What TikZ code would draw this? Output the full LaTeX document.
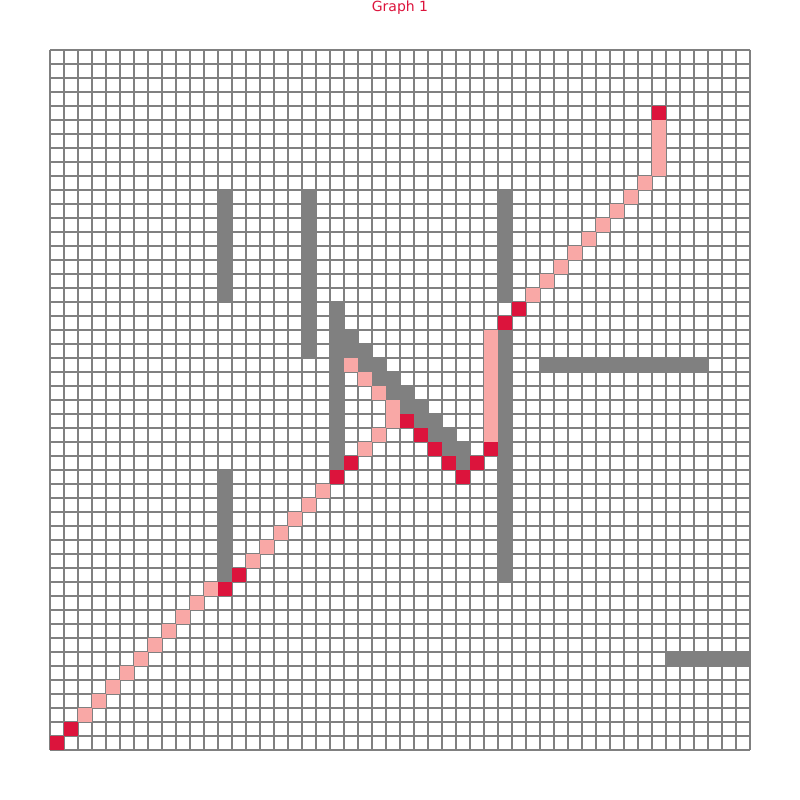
\documentclass[tikz,border=0pt]{standalone}
\usepackage{fontspec}
\usepackage{xcolor}
\usepackage{tikz}
\newfontfamily\titlefont{DejaVu Sans}
\definecolor{gridgray}{RGB}{128, 128, 128}
\definecolor{wallgray}{RGB}{128, 128, 128}
\definecolor{crimsonred}{RGB}{220, 20, 60}
\definecolor{trailpink}{RGB}{249, 168, 166}

\begin{document}
\begin{tikzpicture}[x=14pt, y=-14pt, gridline/.style={gridgray, line width=1.2pt}, wall/.style={fill=wallgray}, trail/.style={fill=trailpink}, waypoint/.style={fill=crimsonred}]
	\useasboundingbox (-3.5714,-3.5714) rectangle (53.5714,53.5714);
	\node[text=crimsonred, font=\titlefont\fontsize{14}{16}\selectfont, inner sep=0pt] (title) at (25,-3.04) {Graph 1};

	\foreach \i in {0,...,50} {
		\draw[gridline] (\i,0) -- (\i,50);
		\draw[gridline] (0,\i) -- (50,\i);
	}

	\fill[wall] (12,10) rectangle (13,18);
	\fill[wall] (18,10) rectangle (19,22);
	\fill[wall] (32,10) rectangle (33,18);
	\fill[wall] (32,20) rectangle (33,38);
	\fill[wall] (20,18) rectangle (21,30);
	\fill[wall] (12,30) rectangle (13,38);
	\fill[wall] (35,22) rectangle (47,23);
	\fill[wall] (44,43) rectangle (50,44);
	\foreach \r in {20,...,28}
		\fill[wall] (\r,\r) rectangle ++(2,1);
	\fill[wall] (29,29) rectangle ++(1,1);

	\foreach \c in {2,...,11}
		\fill[trail] (\c,{49-\c}) rectangle ++(1,1);
	\foreach \c in {14,...,19}
		\fill[trail] (\c,{50-\c}) rectangle ++(1,1);
	\foreach \c/\r in {21/22, 22/23, 23/24, 24/25, 24/26, 23/27, 22/28}
		\fill[trail] (\c,\r) rectangle ++(1,1);
	\fill[trail] (31,20) rectangle (32,28);
	\foreach \c in {34,...,42}
		\fill[trail] (\c,{51-\c}) rectangle ++(1,1);
	\fill[trail] (43,5) rectangle (44,9);

	\foreach \c/\r in {0/49, 1/48, 12/38, 13/37, 20/30, 21/29, 25/26, 26/27, 27/28, 28/29, 29/30, 30/29, 31/28, 32/19, 33/18, 43/4}
		\fill[waypoint] (\c,\r) rectangle ++(1,1);
\end{tikzpicture}
\end{document}
